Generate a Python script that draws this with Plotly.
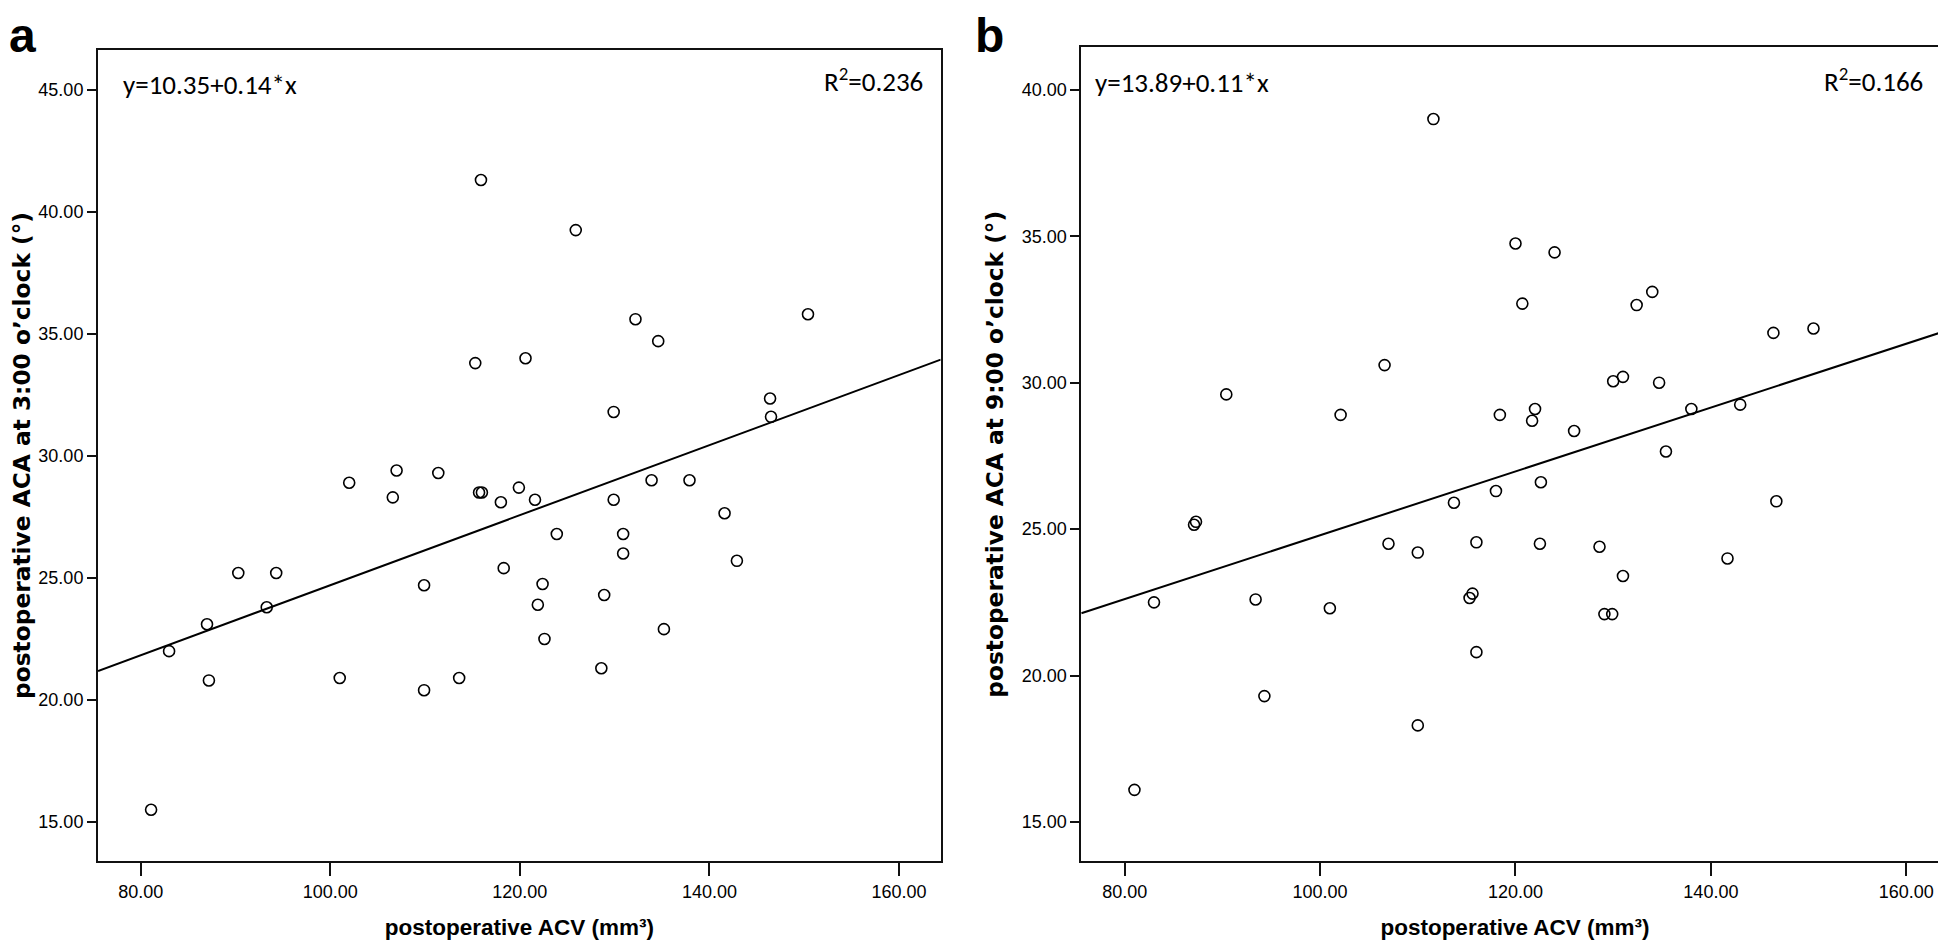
import plotly.graph_objects as go

# ---------------- data ----------------
acv_a = [81.1, 83.0, 87.0, 87.2, 90.3, 93.3, 94.3, 101.0, 102.0, 106.6, 107.0, 109.9, 109.9,
         111.4, 113.6, 115.3, 115.7, 115.9, 116.0, 118.0, 118.3, 119.9, 120.6, 121.6, 121.9,
         122.4, 122.6, 123.9, 125.9, 128.6, 128.9, 129.9, 129.9, 130.9, 130.9, 132.2, 133.9,
         134.6, 135.2, 137.9, 141.6, 142.9, 146.4, 146.5, 150.4]
aca_3 = [15.5, 22.0, 23.1, 20.8, 25.2, 23.8, 25.2, 20.9, 28.9, 28.3, 29.4, 24.7, 20.4,
         29.3, 20.9, 33.8, 28.5, 41.3, 28.5, 28.1, 25.4, 28.7, 34.0, 28.2, 23.9,
         24.75, 22.5, 26.8, 39.25, 21.3, 24.3, 31.8, 28.2, 26.8, 26.0, 35.6, 29.0,
         34.7, 22.9, 29.0, 27.65, 25.7, 32.35, 31.6, 35.8]

acv_b = [81.0, 83.0, 87.1, 87.3, 90.4, 93.4, 94.3, 101.0, 102.1, 106.6, 107.0, 110.0, 110.0,
         111.6, 113.7, 115.3, 115.6, 116.0, 116.0, 118.0, 118.4, 120.0, 120.7, 121.7, 122.0,
         122.5, 122.6, 124.0, 126.0, 128.6, 129.1, 129.9, 130.0, 131.0, 131.0, 132.4, 134.0,
         134.7, 135.4, 138.0, 141.7, 143.0, 146.4, 146.7, 150.5]
aca_9 = [16.1, 22.5, 25.15, 25.25, 29.6, 22.6, 19.3, 22.3, 28.9, 30.6, 24.5, 24.2, 18.3,
         39.0, 25.9, 22.65, 22.8, 24.55, 20.8, 26.3, 28.9, 34.75, 32.7, 28.7, 29.1,
         24.5, 26.6, 34.45, 28.35, 24.4, 22.1, 22.1, 30.05, 30.2, 23.4, 32.65, 33.1,
         30.0, 27.65, 29.1, 24.0, 29.25, 31.7, 25.95, 31.85]

# fit lines as drawn in the reference (intercept, slope)
fit_a = [10.35, 0.1435]
fit_b = [13.89, 0.109]

x_ticks = [80, 100, 120, 140, 160]
y_ticks_a = [15, 20, 25, 30, 35, 40, 45]
y_ticks_b = [15, 20, 25, 30, 35, 40]

panel_labels = ["a", "b"]
eq_texts = ["y=10.35+0.14*x", "y=13.89+0.11*x"]
r2_texts = ["R<sup>2</sup>=0.236", "R<sup>2</sup>=0.166"]
x_title = "postoperative ACV (mm³)"
y_titles = ["postoperative ACA at 3:00 o’clock (°)", "postoperative ACA at 9:00 o’clock (°)"]

x_range_a = [75.5, 164.4]
y_range_a = [13.39, 46.64]
x_range_b = [75.56, 164.34]
y_range_b = [13.66, 41.45]

# ---------------- figure ----------------
W, H = 1946, 943
fig = go.Figure()

marker = dict(symbol="circle-open", size=11, color="black", line=dict(width=1.6, color="black"))

for x, y, xr, fit, xa, ya in [(acv_a, aca_3, x_range_a, fit_a, "x", "y"),
                              (acv_b, aca_9, x_range_b, fit_b, "x2", "y2")]:
    fig.add_trace(go.Scatter(x=x, y=y, mode="markers", marker=marker, xaxis=xa, yaxis=ya,
                             showlegend=False, hoverinfo="x+y"))
    ly = [fit[0] + fit[1] * v for v in xr]
    fig.add_trace(go.Scatter(x=xr, y=ly, mode="lines", line=dict(color="black", width=2),
                             xaxis=xa, yaxis=ya, showlegend=False, hoverinfo="skip"))

tick_font = dict(family="Liberation Sans, Arial, sans-serif", size=18, color="black")
xtitle_font = dict(family="Liberation Sans, Arial, sans-serif", size=22.5, color="black", weight="bold")
ytitle_font = dict(family="DejaVu Sans, Verdana, sans-serif", size=23.3, color="black", weight="bold")


def px_x(p):
    return p / W


def px_y(p):
    return 1 - p / H


common_x = dict(showgrid=False, zeroline=False, showline=True, linecolor="#111", linewidth=2,
                mirror=True, ticks="outside", ticklen=13, tickwidth=2, tickcolor="#111",
                tickvals=x_ticks, tickformat=".2f", tickfont=tick_font,
                title=dict(text=x_title, font=xtitle_font, standoff=18))
common_y = dict(showgrid=False, zeroline=False, showline=True, linecolor="#111", linewidth=2,
                mirror=True, ticks="outside", ticklen=9, tickwidth=2, tickcolor="#111",
                tickformat=".2f", tickfont=tick_font)

fig.update_layout(
    width=W, height=H,
    margin=dict(l=0, r=0, t=0, b=0),
    paper_bgcolor="white", plot_bgcolor="white",
    xaxis=dict(common_x, domain=[px_x(90), px_x(932.7)], range=x_range_a, anchor="y"),
    yaxis=dict(common_y, domain=[px_y(853.3), px_y(41.7)], range=y_range_a, anchor="x",
               tickvals=y_ticks_a,
               title=dict(text=y_titles[0], font=ytitle_font, standoff=11)),
    xaxis2=dict(common_x, domain=[px_x(1073.3), px_x(1940.7)], range=x_range_b, anchor="y2"),
    yaxis2=dict(common_y, domain=[px_y(853.3), px_y(39.3)], range=y_range_b, anchor="x2",
                tickvals=y_ticks_b,
                title=dict(text=y_titles[1], font=ytitle_font, standoff=11)),
)

label_font = dict(family="Liberation Sans, Arial, sans-serif", size=48, color="black", weight="bold")
text_font = dict(family="Carlito, Liberation Sans, Arial, sans-serif", size=27, color="black")

ann = []
for lbl, xpx in zip(panel_labels, [0, 966]):
    ann.append(dict(text=lbl, x=px_x(xpx), y=1, xref="paper", yref="paper", borderpad=0,
                    xanchor="left", yanchor="top", showarrow=False, font=label_font))
for t, xpx, ypx in zip(eq_texts, [113, 1085], [76, 74]):
    ann.append(dict(text=t, x=px_x(xpx), y=px_y(ypx), xref="paper", yref="paper",
                    xanchor="left", yanchor="middle", showarrow=False, font=text_font))
for t, xpx, ypx in zip(r2_texts, [916.7, 1917], [72, 72]):
    ann.append(dict(text=t, x=px_x(xpx), y=px_y(ypx), xref="paper", yref="paper",
                    xanchor="right", yanchor="middle", showarrow=False, font=text_font))
fig.update_layout(annotations=ann)

fig.write_html("out.html")
